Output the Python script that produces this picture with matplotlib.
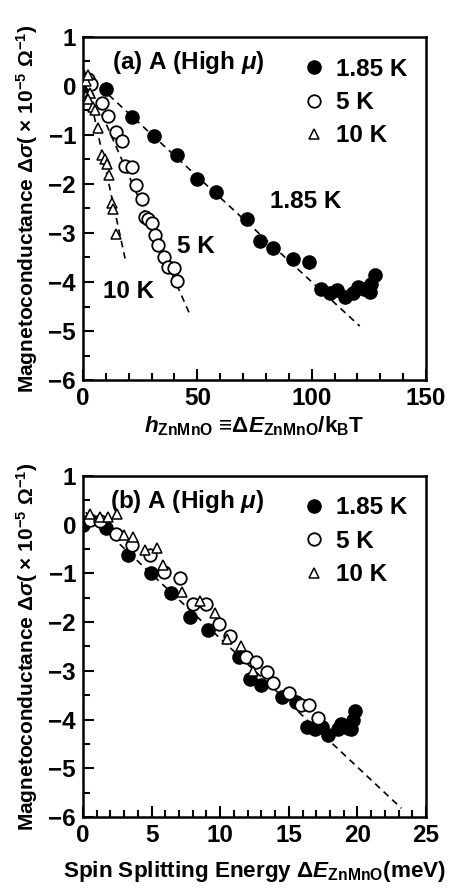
import numpy as np
import matplotlib
matplotlib.use("Agg")
import matplotlib.pyplot as plt
from matplotlib.ticker import MultipleLocator

plt.rcParams["font.family"] = ["Liberation Sans", "DejaVu Sans"]
plt.rcParams["font.weight"] = "bold"
plt.rcParams["mathtext.fontset"] = "custom"
plt.rcParams["mathtext.rm"] = "Liberation Sans:bold"
plt.rcParams["mathtext.it"] = "Liberation Sans:bold:italic"
plt.rcParams["mathtext.bf"] = "Liberation Sans:bold"

# (a) vs h = dE / kB T
h_185 = [0, 10, 21.6, 31, 41, 49.7, 58, 71.6, 77.4, 83.2, 91.7, 99, 104, 108, 111,
         114.6, 118, 120.4, 123, 125.5, 126, 127.7]
s_185 = [0, -0.07, -0.63, -1.02, -1.41, -1.9, -2.16, -2.71, -3.16, -3.31, -3.54, -3.59,
         -4.15, -4.23, -4.16, -4.31, -4.22, -4.11, -4.15, -4.2, -4.04, -3.86]
h_5 = [2, 3.5, 8.5, 11, 14.3, 16.9, 18.5, 21.3, 23.3, 25.7, 27.2, 28.6, 30, 31.5, 33,
       35.6, 37.3, 39.8, 41]
s_5 = [0.15, 0.05, -0.35, -0.61, -0.93, -1.12, -1.63, -1.65, -2.03, -2.3, -2.68, -2.72,
       -2.8, -3.04, -3.24, -3.48, -3.7, -3.72, -3.98]
h_10 = [1.5, 2.3, 3, 2.4, 4.5, 5.3, 6.5, 8.3, 9.7, 10.4, 11.3, 12.6, 13.3, 14.3]
s_10 = [0.1, 0.22, -0.15, -0.27, -0.42, -0.5, -0.85, -1.4, -1.5, -1.6, -1.82, -2.38,
        -2.52, -3.02]
# dashed fits (end points)
fit_h_185 = [0, 121]
fit_s_185 = [0.3, -4.9]
fit_h_5 = [0, 46.8]
fit_s_5 = [0.3, -4.67]
fit_h_10 = [0.5, 18.4]
fit_s_10 = [0.33, -3.52]

# (b) vs spin splitting energy (meV)
e_185 = [0, 1.67, 3.3, 4.93, 6.38, 7.8, 9.1, 11.4, 12.2, 13, 14.5, 15.55, 16.3, 16.9,
         17.4, 17.85, 18.6, 18.8, 19.3, 19.5, 19.7, 19.8]
b_185 = [0, -0.07, -0.63, -1.0, -1.4, -1.89, -2.16, -2.72, -3.17, -3.29, -3.54, -3.63,
         -4.15, -4.2, -4.15, -4.31, -4.2, -4.1, -4.17, -4.2, -4.0, -3.83]
e_5 = [0.5, 1.24, 2.4, 3.54, 4.9, 5.9, 7.06, 8.0, 9.0, 9.9, 10.7, 11.9, 12.6, 13.4,
       13.85, 15.0, 15.9, 16.5, 17.1]
b_5 = [0.1, 0.08, -0.19, -0.41, -0.63, -0.97, -1.1, -1.63, -1.63, -2.03, -2.29, -2.72,
       -2.81, -3.03, -3.25, -3.46, -3.7, -3.71, -3.96]
e_10 = [0.5, 1.24, 1.84, 2.45, 3.0, 3.66, 4.5, 5.36, 5.84, 7.18, 8.5, 9.6, 10.5, 11.55, 12.4]
b_10 = [0.22, 0.15, 0.15, 0.22, -0.22, -0.26, -0.52, -0.48, -0.84, -1.38, -1.56, -1.82,
        -2.35, -2.5, -3.01]
fit_e = [0.2, 23.2]
fit_b = [0.25, -5.82]

FS = 17.5
FL = 16.2
ylab = r"Magnetoconductance Δ$\sigma$( × 10$^{-5}$ Ω$^{-1}$)"


def style_axes(ax, xmax, xmaj, xmin):
    ax.set_xlim(0, xmax)
    ax.set_ylim(-6, 1)
    ax.xaxis.set_major_locator(MultipleLocator(xmaj))
    ax.xaxis.set_minor_locator(MultipleLocator(xmin))
    ax.yaxis.set_major_locator(MultipleLocator(1))
    ax.yaxis.set_minor_locator(MultipleLocator(0.5))
    ax.tick_params(which="both", direction="in", top=False, right=False,
                   labelsize=FS, width=1.5)
    ax.tick_params(which="major", length=8, pad=5)
    ax.tick_params(which="minor", length=5)
    for sp in ax.spines.values():
        sp.set_linewidth(1.8)
    ax.set_ylabel(ylab, fontsize=15, fontweight="bold", labelpad=6)


def plot_sets(ax, x1, y1, x2, y2, x3, y3):
    ax.plot(x1, y1, "o", ms=9.5, mfc="black", mec="black", label="1.85 K", zorder=3)
    ax.plot(x2, y2, "o", ms=9, mfc="white", mec="black", mew=1.3, label="5 K", zorder=3)
    ax.plot(x3, y3, "^", ms=7, mfc="white", mec="black", mew=1.1, label="10 K", zorder=4)
    ax.legend(loc="upper left", bbox_to_anchor=(0.645, 0.94), frameon=False,
              fontsize=FS, handlelength=0.8, handletextpad=0.5, labelspacing=0.43,
              borderpad=0, borderaxespad=0)


fig = plt.figure(figsize=(4.55, 8.91), dpi=100)
ax1 = fig.add_axes([0.1824, 0.5735, 0.754, 0.385])
ax2 = fig.add_axes([0.1824, 0.0830, 0.754, 0.383])

dash = dict(color="black", lw=1.2, ls=(0, (4, 3)), zorder=2)
ax1.plot(fit_h_185, fit_s_185, **dash)
ax1.plot(fit_h_5, fit_s_5, **dash)
ax1.plot(fit_h_10, fit_s_10, **dash)
plot_sets(ax1, h_185, s_185, h_5, s_5, h_10, s_10)
style_axes(ax1, 150, 50, 10)
ax1.text(12.7, 0.47, r"(a) A (High $\mu$)", fontsize=FS, va="center")
ax1.text(81.8, -2.36, "1.85 K", fontsize=FS, va="center")
ax1.text(41, -3.28, "5 K", fontsize=FS, va="center")
ax1.text(8.9, -4.2, "10 K", fontsize=FS, va="center")
ax1.set_xlabel(r"$h_{\rm ZnMnO}$ ≡Δ$E_{\rm ZnMnO}$/k$_{\rm B}$T", fontsize=FL,
               fontweight="bold", labelpad=3)

ax2.plot(fit_e, fit_b, **dash)
plot_sets(ax2, e_185, b_185, e_5, b_5, e_10, b_10)
style_axes(ax2, 25, 5, 1)
ax2.text(2.0, 0.47, r"(b) A (High $\mu$)", fontsize=FS, va="center")
ax2.set_xlabel(r"Spin Splitting Energy Δ$E_{\rm ZnMnO}$(meV)", fontsize=FL,
               fontweight="bold", labelpad=9)

fig.savefig("out.png", dpi=100)
